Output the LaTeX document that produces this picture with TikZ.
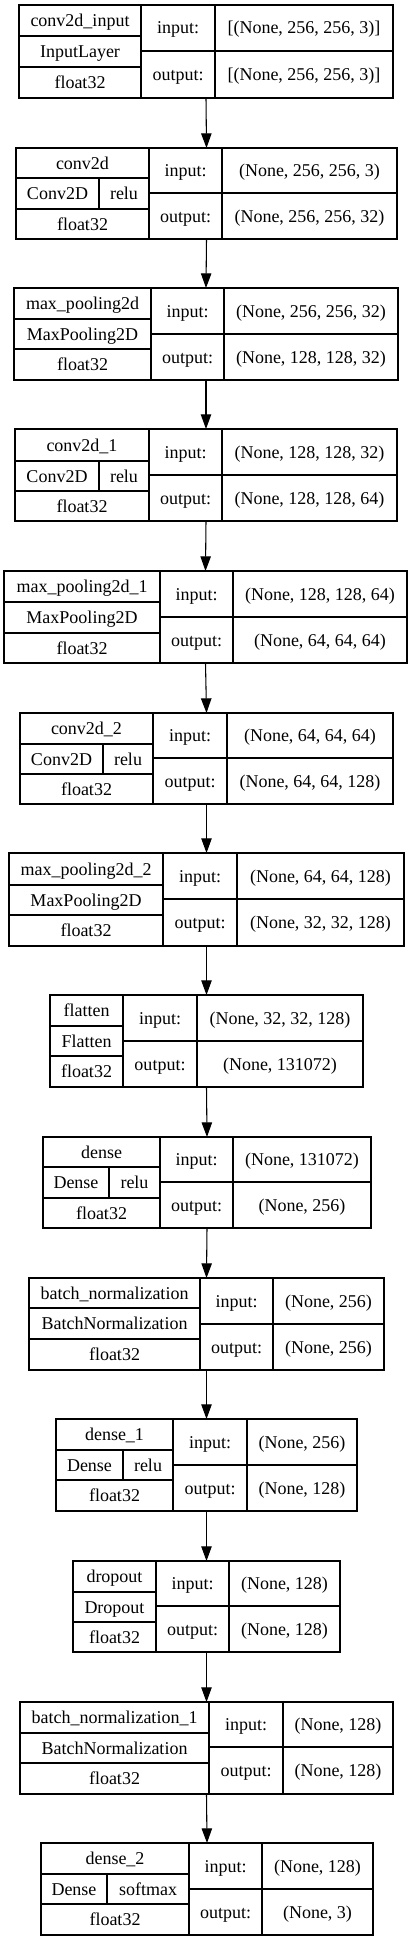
\documentclass[tikz,border=0pt]{standalone}
\usepackage{fontspec}
\setmainfont{Liberation Serif}
\usetikzlibrary{arrows.meta,fit}

\begin{document}
\begin{tikzpicture}[x=0.75pt,y=0.75pt,yscale=-1,xscale=1,
  layer/.style={draw, line width=0.8pt, inner sep=0pt, outer sep=0pt},
  cell/.style={line width=0.8pt},
  lbl/.style={inner sep=0pt, font=\fontsize{13.5}{16}\selectfont, text height=10pt, text depth=1pt},
  flow/.style={line width=0.8pt, -{Triangle[length=11pt,width=7.8pt]}}]
%set diagram to the page size
\path [use as bounding box] (0,0) rectangle (413,1941);

%Layer: conv2d_input
\node [layer, fit={(19,5) (393,98)}] (conv2d_input) {};
\draw [cell] (141,5) -- (141,98) (215,5) -- (215,98) (19,36) -- (141,36) (19,67) -- (141,67) (141,51) -- (393,51);
\node [lbl] (conv2d_input_name) at (80,20.5) {conv2d\_input};
\node [lbl] (conv2d_input_cls) at (80,51.5) {InputLayer};
\node [lbl] (conv2d_input_dt) at (80,82.5) {float32};
\node [lbl] (conv2d_input_in) at (178,28) {input:};
\node [lbl] (conv2d_input_ins) at (304,28) {[(None, 256, 256, 3)]};
\node [lbl] (conv2d_input_out) at (178,74.5) {output:};
\node [lbl] (conv2d_input_outs) at (304,74.5) {[(None, 256, 256, 3)]};

%Layer: conv2d
\node [layer, fit={(16,148) (397,239)}] (conv2d) {};
\draw [cell] (149,148) -- (149,239) (222,148) -- (222,239) (16,178) -- (149,178) (16,209) -- (149,209) (99,178) -- (99,209) (149,193) -- (397,193);
\node [lbl] (conv2d_name) at (82.5,163) {conv2d};
\node [lbl] (conv2d_cls) at (57.5,193.5) {Conv2D};
\node [lbl] (conv2d_act) at (124,193.5) {relu};
\node [lbl] (conv2d_dt) at (82.5,224) {float32};
\node [lbl] (conv2d_in) at (185.5,170.5) {input:};
\node [lbl] (conv2d_ins) at (309.5,170.5) {(None, 256, 256, 3)};
\node [lbl] (conv2d_out) at (185.5,216) {output:};
\node [lbl] (conv2d_outs) at (309.5,216) {(None, 256, 256, 32)};

%Layer: max_pooling2d
\node [layer, fit={(14,288) (398,380)}] (max_pooling2d) {};
\draw [cell] (151,288) -- (151,380) (224,288) -- (224,380) (14,319) -- (151,319) (14,349) -- (151,349) (151,334) -- (398,334);
\node [lbl] (max_pooling2d_name) at (82.5,303.5) {max\_pooling2d};
\node [lbl] (max_pooling2d_cls) at (82.5,334) {MaxPooling2D};
\node [lbl] (max_pooling2d_dt) at (82.5,364.5) {float32};
\node [lbl] (max_pooling2d_in) at (187.5,311) {input:};
\node [lbl] (max_pooling2d_ins) at (311,311) {(None, 256, 256, 32)};
\node [lbl] (max_pooling2d_out) at (187.5,357) {output:};
\node [lbl] (max_pooling2d_outs) at (311,357) {(None, 128, 128, 32)};

%Layer: conv2d_1
\node [layer, fit={(15,429) (397,521)}] (conv2d_1) {};
\draw [cell] (149,429) -- (149,521) (222,429) -- (222,521) (15,461) -- (149,461) (15,491) -- (149,491) (99,461) -- (99,491) (149,475) -- (397,475);
\node [lbl] (conv2d_1_name) at (82,445) {conv2d\_1};
\node [lbl] (conv2d_1_cls) at (57,476) {Conv2D};
\node [lbl] (conv2d_1_act) at (124,476) {relu};
\node [lbl] (conv2d_1_dt) at (82,506) {float32};
\node [lbl] (conv2d_1_in) at (185.5,452) {input:};
\node [lbl] (conv2d_1_ins) at (309.5,452) {(None, 128, 128, 32)};
\node [lbl] (conv2d_1_out) at (185.5,498) {output:};
\node [lbl] (conv2d_1_outs) at (309.5,498) {(None, 128, 128, 64)};

%Layer: max_pooling2d_1
\node [layer, fit={(4,571) (407,663)}] (max_pooling2d_1) {};
\draw [cell] (160,571) -- (160,663) (233,571) -- (233,663) (4,602) -- (160,602) (4,633) -- (160,633) (160,617) -- (407,617);
\node [lbl] (max_pooling2d_1_name) at (82,586.5) {max\_pooling2d\_1};
\node [lbl] (max_pooling2d_1_cls) at (82,617.5) {MaxPooling2D};
\node [lbl] (max_pooling2d_1_dt) at (82,648) {float32};
\node [lbl] (max_pooling2d_1_in) at (196.5,594) {input:};
\node [lbl] (max_pooling2d_1_ins) at (320,594) {(None, 128, 128, 64)};
\node [lbl] (max_pooling2d_1_out) at (196.5,640) {output:};
\node [lbl] (max_pooling2d_1_outs) at (320,640) {(None, 64, 64, 64)};

%Layer: conv2d_2
\node [layer, fit={(20,713) (393,804)}] (conv2d_2) {};
\draw [cell] (153,713) -- (153,804) (227,713) -- (227,804) (20,744) -- (153,744) (20,774) -- (153,774) (103,744) -- (103,774) (153,758) -- (393,758);
\node [lbl] (conv2d_2_name) at (86.5,728.5) {conv2d\_2};
\node [lbl] (conv2d_2_cls) at (61.5,759) {Conv2D};
\node [lbl] (conv2d_2_act) at (128,759) {relu};
\node [lbl] (conv2d_2_dt) at (86.5,789) {float32};
\node [lbl] (conv2d_2_in) at (190,735.5) {input:};
\node [lbl] (conv2d_2_ins) at (310,735.5) {(None, 64, 64, 64)};
\node [lbl] (conv2d_2_out) at (190,781) {output:};
\node [lbl] (conv2d_2_outs) at (310,781) {(None, 64, 64, 128)};

%Layer: max_pooling2d_2
\node [layer, fit={(9,853) (404,946)}] (max_pooling2d_2) {};
\draw [cell] (163,853) -- (163,946) (237,853) -- (237,946) (9,885) -- (163,885) (9,915) -- (163,915) (163,899) -- (404,899);
\node [lbl] (max_pooling2d_2_name) at (86,869) {max\_pooling2d\_2};
\node [lbl] (max_pooling2d_2_cls) at (86,900) {MaxPooling2D};
\node [lbl] (max_pooling2d_2_dt) at (86,930.5) {float32};
\node [lbl] (max_pooling2d_2_in) at (200,876) {input:};
\node [lbl] (max_pooling2d_2_ins) at (320.5,876) {(None, 64, 64, 128)};
\node [lbl] (max_pooling2d_2_out) at (200,922.5) {output:};
\node [lbl] (max_pooling2d_2_outs) at (320.5,922.5) {(None, 32, 32, 128)};

%Layer: flatten
\node [layer, fit={(50,995) (363,1087)}] (flatten) {};
\draw [cell] (123,995) -- (123,1087) (197,995) -- (197,1087) (50,1026) -- (123,1026) (50,1056) -- (123,1056) (123,1041) -- (363,1041);
\node [lbl] (flatten_name) at (86.5,1010.5) {flatten};
\node [lbl] (flatten_cls) at (86.5,1041) {Flatten};
\node [lbl] (flatten_dt) at (86.5,1071.5) {float32};
\node [lbl] (flatten_in) at (160,1018) {input:};
\node [lbl] (flatten_ins) at (280,1018) {(None, 32, 32, 128)};
\node [lbl] (flatten_out) at (160,1064) {output:};
\node [lbl] (flatten_outs) at (280,1064) {(None, 131072)};

%Layer: dense
\node [layer, fit={(43,1137) (371,1228)}] (dense) {};
\draw [cell] (160,1137) -- (160,1228) (233,1137) -- (233,1228) (43,1167) -- (160,1167) (43,1198) -- (160,1198) (109,1167) -- (109,1198) (160,1182) -- (371,1182);
\node [lbl] (dense_name) at (101.5,1152) {dense};
\node [lbl] (dense_cls) at (76,1182.5) {Dense};
\node [lbl] (dense_act) at (134.5,1182.5) {relu};
\node [lbl] (dense_dt) at (101.5,1213) {float32};
\node [lbl] (dense_in) at (196.5,1159.5) {input:};
\node [lbl] (dense_ins) at (302,1159.5) {(None, 131072)};
\node [lbl] (dense_out) at (196.5,1205) {output:};
\node [lbl] (dense_outs) at (302,1205) {(None, 256)};

%Layer: batch_normalization
\node [layer, fit={(29,1278) (384,1370)}] (batch_normalization) {};
\draw [cell] (200,1278) -- (200,1370) (273,1278) -- (273,1370) (29,1308) -- (200,1308) (29,1339) -- (200,1339) (200,1324) -- (384,1324);
\node [lbl] (batch_normalization_name) at (114.5,1293) {batch\_normalization};
\node [lbl] (batch_normalization_cls) at (114.5,1323.5) {BatchNormalization};
\node [lbl] (batch_normalization_dt) at (114.5,1354.5) {float32};
\node [lbl] (batch_normalization_in) at (236.5,1301) {input:};
\node [lbl] (batch_normalization_ins) at (328.5,1301) {(None, 256)};
\node [lbl] (batch_normalization_out) at (236.5,1347) {output:};
\node [lbl] (batch_normalization_outs) at (328.5,1347) {(None, 256)};

%Layer: dense_1
\node [layer, fit={(56,1419) (357,1511)}] (dense_1) {};
\draw [cell] (173,1419) -- (173,1511) (247,1419) -- (247,1511) (56,1450) -- (173,1450) (56,1480) -- (173,1480) (123,1450) -- (123,1480) (173,1465) -- (357,1465);
\node [lbl] (dense_1_name) at (114.5,1434.5) {dense\_1};
\node [lbl] (dense_1_cls) at (89.5,1465) {Dense};
\node [lbl] (dense_1_act) at (148,1465) {relu};
\node [lbl] (dense_1_dt) at (114.5,1495.5) {float32};
\node [lbl] (dense_1_in) at (210,1442) {input:};
\node [lbl] (dense_1_ins) at (302,1442) {(None, 256)};
\node [lbl] (dense_1_out) at (210,1488) {output:};
\node [lbl] (dense_1_outs) at (302,1488) {(None, 128)};

%Layer: dropout
\node [layer, fit={(73,1561) (340,1652)}] (dropout) {};
\draw [cell] (156,1561) -- (156,1652) (229,1561) -- (229,1652) (73,1592) -- (156,1592) (73,1622) -- (156,1622) (156,1606) -- (340,1606);
\node [lbl] (dropout_name) at (114.5,1576.5) {dropout};
\node [lbl] (dropout_cls) at (114.5,1607) {Dropout};
\node [lbl] (dropout_dt) at (114.5,1637) {float32};
\node [lbl] (dropout_in) at (192.5,1583.5) {input:};
\node [lbl] (dropout_ins) at (284.5,1583.5) {(None, 128)};
\node [lbl] (dropout_out) at (192.5,1629) {output:};
\node [lbl] (dropout_outs) at (284.5,1629) {(None, 128)};

%Layer: batch_normalization_1
\node [layer, fit={(20,1702) (393,1794)}] (batch_normalization_1) {};
\draw [cell] (209,1702) -- (209,1794) (283,1702) -- (283,1794) (20,1733) -- (209,1733) (20,1763) -- (209,1763) (209,1747) -- (393,1747);
\node [lbl] (batch_normalization_1_name) at (114.5,1717.5) {batch\_normalization\_1};
\node [lbl] (batch_normalization_1_cls) at (114.5,1748) {BatchNormalization};
\node [lbl] (batch_normalization_1_dt) at (114.5,1778.5) {float32};
\node [lbl] (batch_normalization_1_in) at (246,1724.5) {input:};
\node [lbl] (batch_normalization_1_ins) at (338,1724.5) {(None, 128)};
\node [lbl] (batch_normalization_1_out) at (246,1770.5) {output:};
\node [lbl] (batch_normalization_1_outs) at (338,1770.5) {(None, 128)};

%Layer: dense_2
\node [layer, fit={(41,1843) (373,1935)}] (dense_2) {};
\draw [cell] (189,1843) -- (189,1935) (262,1843) -- (262,1935) (41,1874) -- (189,1874) (41,1904) -- (189,1904) (107,1874) -- (107,1904) (189,1889) -- (373,1889);
\node [lbl] (dense_2_name) at (115,1858.5) {dense\_2};
\node [lbl] (dense_2_cls) at (74,1889) {Dense};
\node [lbl] (dense_2_act) at (148,1889) {softmax};
\node [lbl] (dense_2_dt) at (115,1919.5) {float32};
\node [lbl] (dense_2_in) at (225.5,1866) {input:};
\node [lbl] (dense_2_ins) at (317.5,1866) {(None, 128)};
\node [lbl] (dense_2_out) at (225.5,1912) {output:};
\node [lbl] (dense_2_outs) at (317.5,1912) {(None, 3)};

%Arrows
\draw [flow] (conv2d_input.south) -- (conv2d.north);
\draw [flow] (conv2d.south) -- (max_pooling2d.north);
\draw [flow] (max_pooling2d.south) -- (conv2d_1.north);
\draw [flow] (conv2d_1.south) -- (max_pooling2d_1.north);
\draw [flow] (max_pooling2d_1.south) -- (conv2d_2.north);
\draw [flow] (conv2d_2.south) -- (max_pooling2d_2.north);
\draw [flow] (max_pooling2d_2.south) -- (flatten.north);
\draw [flow] (flatten.south) -- (dense.north);
\draw [flow] (dense.south) -- (batch_normalization.north);
\draw [flow] (batch_normalization.south) -- (dense_1.north);
\draw [flow] (dense_1.south) -- (dropout.north);
\draw [flow] (dropout.south) -- (batch_normalization_1.north);
\draw [flow] (batch_normalization_1.south) -- (dense_2.north);

\end{tikzpicture}
\end{document}
